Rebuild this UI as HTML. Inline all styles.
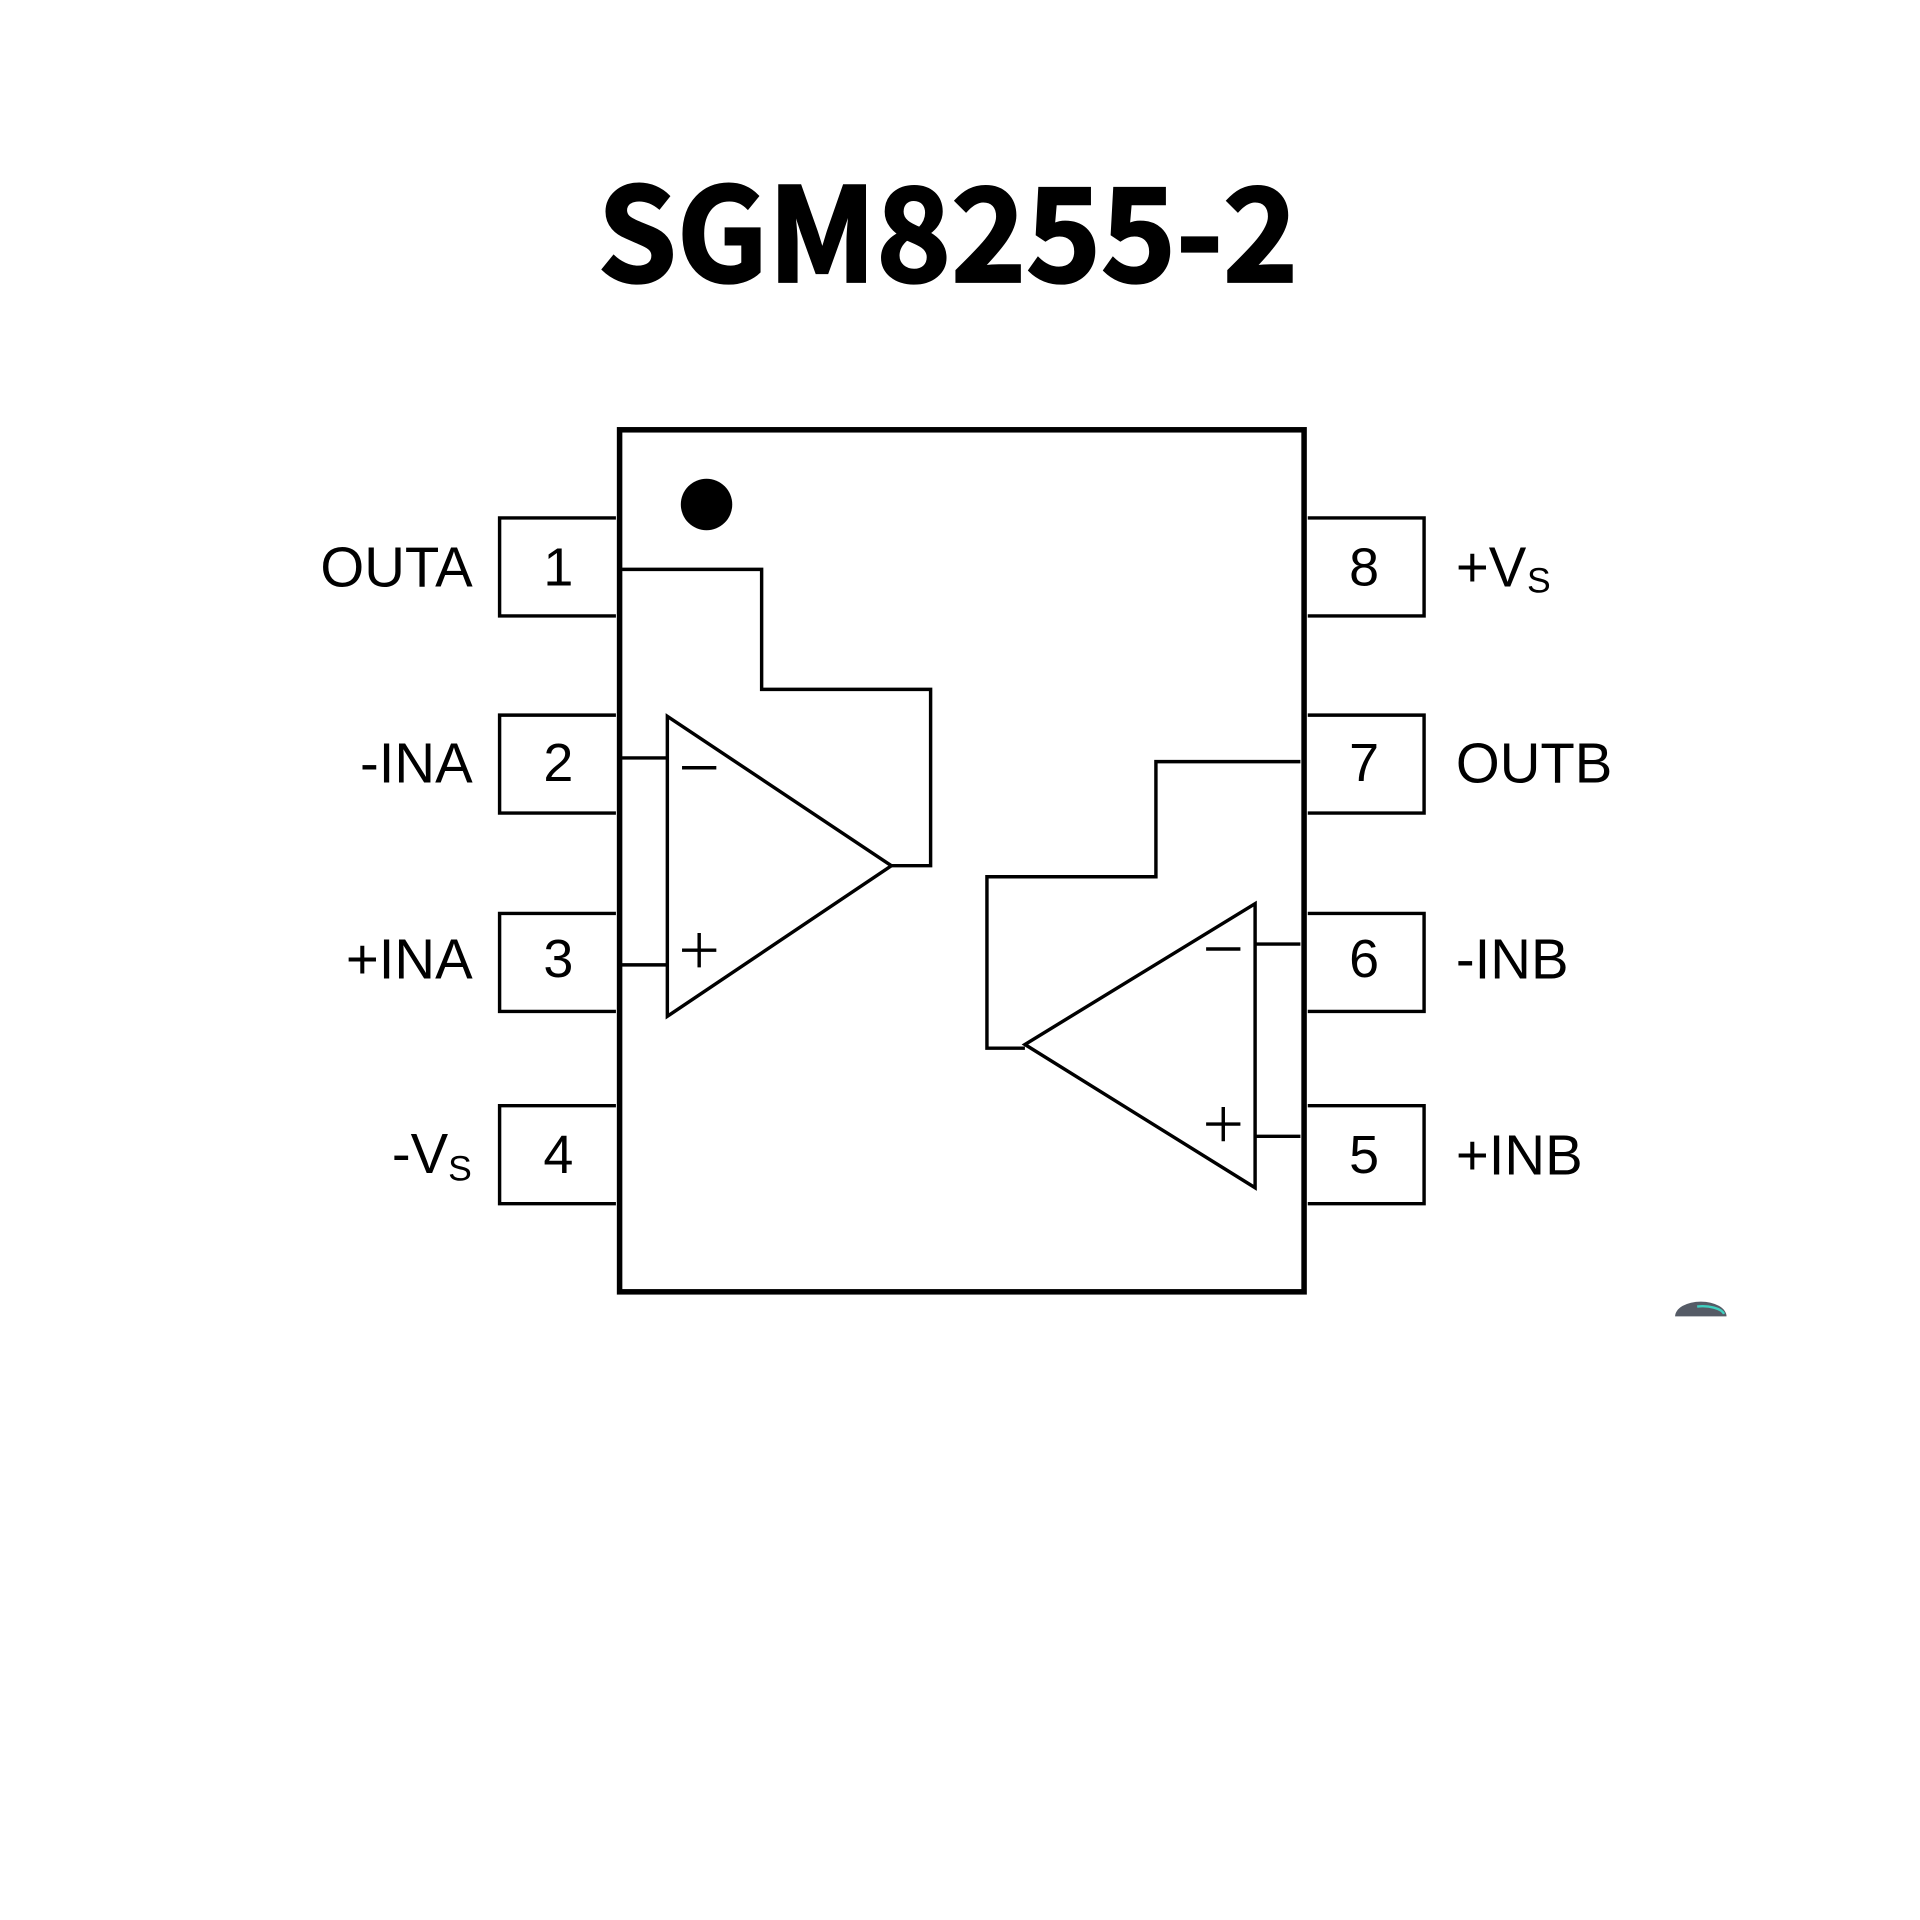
<!DOCTYPE html>
<html><head><meta charset="utf-8"><style>
html,body{margin:0;padding:0;background:#fff;width:1920px;height:1920px;overflow:hidden}
svg{display:block}
text{font-family:"Liberation Sans",Arial,sans-serif;fill:#000}
</style></head><body>
<svg width="1920" height="1920" viewBox="0 0 1568 1568" xmlns="http://www.w3.org/2000/svg">
<text x="488" y="230" font-size="106" font-weight="bold" textLength="572" lengthAdjust="spacingAndGlyphs" stroke="#000" stroke-width="2" style="font-family:'Noto Sans CJK SC','DejaVu Sans',sans-serif">SGM8255-2</text>
<g fill="none" stroke="#000">
<rect x="506" y="351" width="559" height="704" stroke-width="4.5"/>
<g stroke-width="2.8">
<path d="M503 423H408V503H503"/>
<path d="M503 584H408V664H503"/>
<path d="M503 746H408V826H503"/>
<path d="M503 903H408V983H503"/>
<path d="M1068 423H1163V503H1068"/>
<path d="M1068 584H1163V664H1068"/>
<path d="M1068 746H1163V826H1068"/>
<path d="M1068 903H1163V983H1068"/>
<path d="M545 585L545 830L728 707Z"/>
<path d="M508 619H545M508 788H545"/>
<path d="M728 707H760V563H622V465H508"/>
<path d="M1025 738L1025 970L837 853Z"/>
<path d="M1025 771H1062M1025 928H1062"/>
<path d="M837 856H806V716H944V622H1062"/>
<path d="M557 627H585M571 762V790M557 776H585"/>
<path d="M985 775H1013M999 904V932M985 918H1013"/>
</g>
</g>
<circle cx="577" cy="412" r="21" fill="#000"/>
<g font-size="44" text-anchor="middle">
<text x="456" y="478">1</text><text x="456" y="638">2</text><text x="456" y="798">3</text><text x="456" y="958">4</text>
<text x="1114" y="478">8</text><text x="1114" y="638">7</text><text x="1114" y="798">6</text><text x="1114" y="958">5</text>
</g>
<g font-size="46" text-anchor="end">
<text x="386" y="479">OUTA</text>
<text x="386" y="639">-INA</text>
<text x="386" y="799">+INA</text>
<text x="366" y="958">-V</text>
</g>
<text x="366" y="964" font-size="29">S</text>
<g font-size="46">
<text x="1189" y="479">+V</text>
<text x="1189" y="639">OUTB</text>
<text x="1189" y="799">-INB</text>
<text x="1189" y="959">+INB</text>
</g>
<text x="1247" y="484" font-size="29">S</text>
<path d="M1368 1075 A21 12 0 0 1 1410 1075 Z" fill="#555b66"/>
<path d="M1386 1067 A18 8 0 0 1 1408 1073" stroke="#3fd0c0" stroke-width="2" fill="none"/>
</svg>
</body></html>
